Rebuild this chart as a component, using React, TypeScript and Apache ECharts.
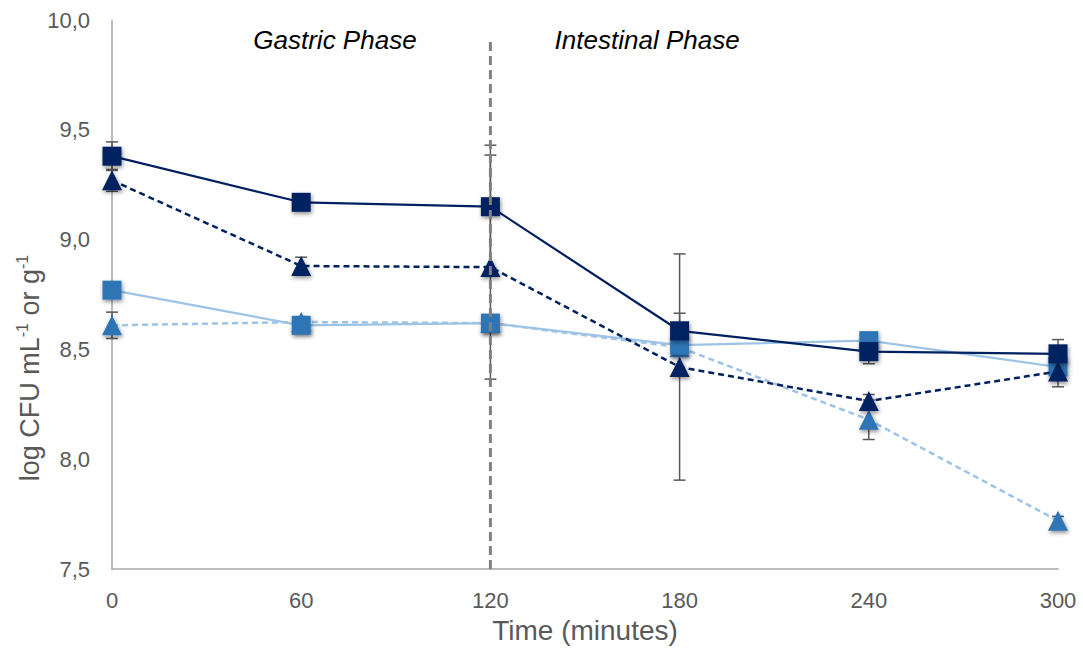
import React, { useEffect, useRef } from "react";
import * as echarts from "echarts";

// ---- data ----
const times = [0, 60, 120, 180, 240, 300];
const darkSquare = [9.38, 9.17, 9.15, 8.585, 8.49, 8.48];
const darkSquareErr = [0.065, 0.03, 0.28, 0.08, 0.055, 0.065];
const darkTriangle = [9.27, 8.88, 8.875, 8.42, 8.265, 8.4];
const darkTriangleErr = [0.05, 0.04, 0.51, 0.515, 0.03, 0.07];
const lightSquare = [8.77, 8.61, 8.62, 8.52, 8.54, 8.42];
const lightSquareErr = [0.03, 0.02, 0.02, 0.03, 0.02, 0.02];
const lightTriangle = [8.61, 8.625, 8.62, 8.51, 8.18, 7.72];
const lightTriangleErr = [0.06, 0.02, 0.02, 0.02, 0.09, 0.02];

const yTicks = { min: 7.5, max: 10, interval: 0.5 };
const xTicks = { min: 0, max: 300, interval: 60 };

const phaseBoundary = { x: 120, yFrom: 7.5, yTo: 9.9 };
const phaseLabels = [
  { text: "Gastric Phase", x: 70.7, y: 9.91 },
  { text: "Intestinal Phase", x: 169.7, y: 9.91 },
];
const yTitle = "log CFU mL{sup|-1} or g{sup|-1}";
const xTitle = "Time (minutes)";

const DARK = "#002060";
const LIGHT_MARK = "#2E75B6";
const LIGHT_LINE = "#9DC3E6";
const FONT = "'Liberation Sans', Arial, sans-serif";

const pairs = (vals: number[]) => times.map((t, i) => [t, vals[i]]);
const errPairs = (vals: number[], errs: number[]) => times.map((t, i) => [t, vals[i], errs[i]]);

export default function App() {
  const ref = useRef<HTMLDivElement>(null);
  useEffect(() => {
    if (!ref.current) return;
    const chart = echarts.init(ref.current, null, { renderer: "svg" });
    const shadow = {
      shadowBlur: 4,
      shadowColor: "rgba(0,0,0,0.45)",
      shadowOffsetX: 1,
      shadowOffsetY: 2,
    };
    const lineSeries = (
      name: string,
      vals: number[],
      lineColor: string,
      markColor: string,
      symbol: string,
      dashed: boolean,
      z: number
    ) => ({
      name,
      type: "line",
      data: pairs(vals),
      symbol,
      symbolSize: symbol === "rect" ? 19 : 20,
      showSymbol: true,
      z,
      lineStyle: {
        color: lineColor,
        width: dashed ? 2.5 : 2.2,
        type: dashed ? [6, 4] : "solid",
      },
      itemStyle: { color: markColor, borderWidth: 0, ...shadow },
      emphasis: { disabled: true },
    });

    const errData = [
      ...errPairs(lightTriangle, lightTriangleErr),
      ...errPairs(lightSquare, lightSquareErr),
      ...errPairs(darkTriangle, darkTriangleErr),
      ...errPairs(darkSquare, darkSquareErr),
    ];

    chart.setOption({
      animation: false,
      grid: { left: 112, right: 25, top: 20, bottom: 78 },
      graphic: [
        {
          type: "text",
          x: 30,
          y: 368,
          rotation: Math.PI / 2,
          style: {
            text: yTitle,
            fontFamily: FONT,
            fontSize: 27,
            fill: "#595959",
            align: "center",
            verticalAlign: "middle",
            lineHeight: 32,
            rich: {
              sup: {
                fontFamily: FONT,
                fontSize: 16,
                fill: "#595959",
                verticalAlign: "top",
                lineHeight: 32,
              },
            },
          },
        },
      ],
      xAxis: {
        type: "value",
        min: xTicks.min,
        max: xTicks.max,
        interval: xTicks.interval,
        name: xTitle,
        nameLocation: "middle",
        nameGap: 46,
        nameTextStyle: { fontFamily: FONT, fontSize: 28, color: "#595959" },
        axisLine: { onZero: false, lineStyle: { color: "#A6A6A6", width: 1.5 } },
        axisTick: { show: false },
        splitLine: { show: false },
        axisLabel: { fontFamily: FONT, fontSize: 22, color: "#595959", margin: 20 },
      },
      yAxis: {
        type: "value",
        min: yTicks.min,
        max: yTicks.max,
        interval: yTicks.interval,
        axisLine: { show: true, onZero: false, lineStyle: { color: "#A6A6A6", width: 1.5 } },
        axisTick: { show: false },
        splitLine: { show: false },
        axisLabel: {
          fontFamily: FONT,
          fontSize: 22,
          color: "#595959",
          margin: 22,
          formatter: (v: number) => v.toFixed(1).replace(".", ","),
        },
      },
      series: [
        {
          type: "custom",
          name: "errors",
          z: 1,
          data: errData,
          renderItem: (params: any, api: any) => {
            const x = api.value(0);
            const y = api.value(1);
            const e = api.value(2);
            const top = api.coord([x, y + e]);
            const bot = api.coord([x, y - e]);
            const style = { stroke: "#595959", lineWidth: 1.5 };
            return {
              type: "group",
              children: [
                { type: "line", shape: { x1: top[0], y1: top[1], x2: bot[0], y2: bot[1] }, style },
                { type: "line", shape: { x1: top[0] - 6, y1: top[1], x2: top[0] + 6, y2: top[1] }, style },
                { type: "line", shape: { x1: bot[0] - 6, y1: bot[1], x2: bot[0] + 6, y2: bot[1] }, style },
              ],
            };
          },
        },
        lineSeries("lightTriangle", lightTriangle, LIGHT_LINE, LIGHT_MARK, "triangle", true, 2),
        lineSeries("lightSquare", lightSquare, LIGHT_LINE, LIGHT_MARK, "rect", false, 3),
        lineSeries("darkTriangle", darkTriangle, DARK, DARK, "triangle", true, 4),
        lineSeries("darkSquare", darkSquare, DARK, DARK, "rect", false, 5),
        {
          type: "line",
          name: "boundary",
          z: 10,
          data: [
            [phaseBoundary.x, phaseBoundary.yFrom],
            [phaseBoundary.x, phaseBoundary.yTo],
          ],
          symbol: "none",
          lineStyle: { color: "#808080", width: 3, type: [9, 5] },
          emphasis: { disabled: true },
        },
        {
          type: "custom",
          name: "phases",
          z: 11,
          data: phaseLabels.map((p) => [p.x, p.y]),
          renderItem: (params: any, api: any) => {
            const pt = api.coord([api.value(0), api.value(1)]);
            return {
              type: "text",
              x: pt[0],
              y: pt[1],
              style: {
                text: phaseLabels[params.dataIndex].text,
                fontFamily: FONT,
                fontSize: 26,
                fontStyle: "italic",
                fill: "#000000",
                align: "center",
                verticalAlign: "middle",
              },
            };
          },
        },
      ],
    });
    return () => chart.dispose();
  }, []);
  return (
    <div
      ref={ref}
      style={{ position: "fixed", left: 0, top: 0, width: 1083, height: 649, background: "#fff" }}
    />
  );
}
